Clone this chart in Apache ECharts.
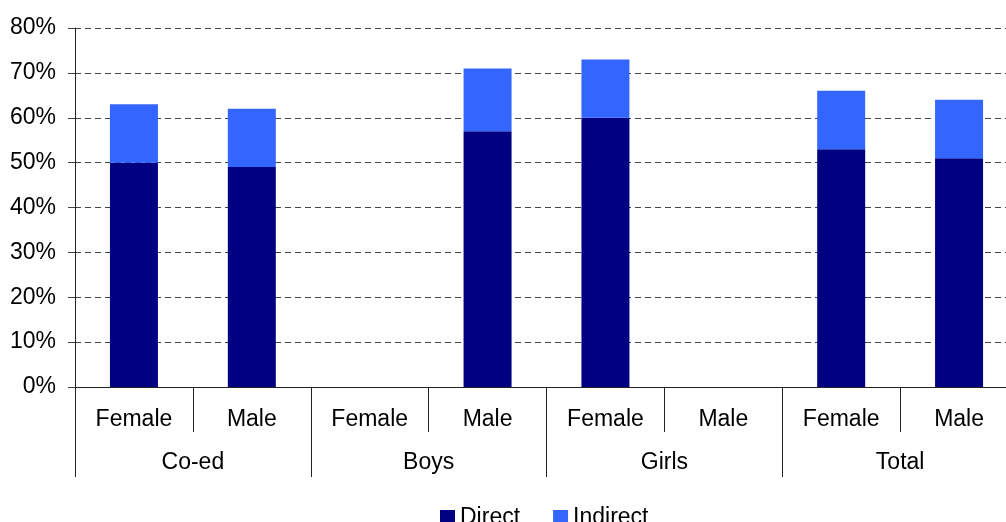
<!DOCTYPE html>
<html>
<head>
<meta charset="utf-8">
<script src="https://cdn.jsdelivr.net/npm/echarts@6/dist/echarts.min.js"></script>
<style>
  html, body { margin: 0; padding: 0; background: #fff; overflow: hidden; }
  /* the plot runs a bit past the right edge of the window, as in the source */
  #chart { width: 1018px; height: 522px; }
</style>
</head>
<body>
<div id="chart"></div>
<script>
// data
var subLabels = ['Female', 'Male', 'Female', 'Male', 'Female', 'Male', 'Female', 'Male'];
var groupLabels = ['Co-ed', 'Boys', 'Girls', 'Total'];
var directValues = [50, 49, null, 57, 60, null, 53, 51];
var indirectValues = [13, 13, null, 14, 13, null, 13, 13];
var yTicks = [0, 10, 20, 30, 40, 50, 60, 70, 80];

var font = 'Liberation Sans, Arial, sans-serif';
var chart = echarts.init(document.getElementById('chart'));
var option = {
  animation: false,
  textStyle: { fontFamily: font },
  grid: { left: 75, top: 28, right: 0, bottom: 135, containLabel: false },
  legend: {
    data: ['Direct', 'Indirect'],
    top: 506,
    left: 440,
    padding: 0,
    itemWidth: 15,
    itemHeight: 15,
    itemGap: 33,
    icon: 'rect',
    textStyle: { fontSize: 23, color: '#000', fontFamily: font }
  },
  xAxis: [
    {
      type: 'category',
      data: subLabels,
      position: 'bottom',
      axisLine: { lineStyle: { color: '#222', width: 1 } },
      axisTick: { show: true, alignWithLabel: false, length: 45, lineStyle: { color: '#222' } },
      axisLabel: { fontSize: 23, color: '#000', margin: 21, fontFamily: font }
    },
    {
      type: 'category',
      data: groupLabels,
      position: 'bottom',
      axisLine: { show: false },
      axisTick: { show: true, alignWithLabel: false, length: 90, lineStyle: { color: '#222' } },
      axisLabel: { fontSize: 23, color: '#000', margin: 64, fontFamily: font }
    }
  ],
  yAxis: {
    type: 'value',
    min: yTicks[0],
    max: yTicks[yTicks.length - 1],
    interval: 10,
    axisLine: { show: true, lineStyle: { color: '#222' } },
    axisTick: { show: true, length: 7, lineStyle: { color: '#444' } },
    axisLabel: { fontSize: 23, color: '#000', margin: 19, formatter: '{value}%', fontFamily: font },
    splitLine: { show: true, lineStyle: { color: '#444', type: [6, 4], width: 1 } }
  },
  series: [
    {
      name: 'Direct',
      type: 'bar',
      stack: 'total',
      xAxisIndex: 0,
      barWidth: 48,
      itemStyle: { color: '#000080' },
      data: directValues
    },
    {
      name: 'Indirect',
      type: 'bar',
      stack: 'total',
      xAxisIndex: 0,
      barWidth: 48,
      itemStyle: { color: '#3366FF' },
      data: indirectValues
    }
  ]
};
chart.setOption(option);
</script>
</body>
</html>
